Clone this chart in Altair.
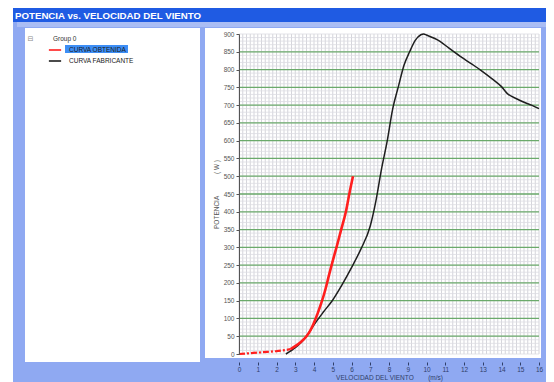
import altair as alt
import pandas as pd

# ---------------- data ----------------
series_names = ["CURVA OBTENIDA", "CURVA FABRICANTE"]
series_colors = ["#FF1E1E", "#1E1E1E"]

# measured curve, low-speed dashed part
red_low_x = [0.0, 0.5, 1.0, 1.5, 2.0, 2.5, 2.75]
red_low_y = [0, 2, 4, 6, 8, 11, 14]
# measured curve, main part
red_x = [2.75, 3.0, 3.3, 3.6, 3.8, 4.0, 4.2, 4.4, 4.6, 4.8, 5.0, 5.2, 5.45, 5.7, 5.9, 6.08]
red_y = [14, 22, 34, 50, 66, 88, 115, 145, 180, 222, 262, 300, 350, 400, 455, 500]

# manufacturer curve
black_x = [2.5, 3.0, 3.3, 3.6, 4.0, 4.5, 5.0, 5.5, 6.0, 6.5, 7.0, 7.3, 7.6, 7.9, 8.2,
           8.5, 8.8, 9.1, 9.4, 9.7, 9.85, 10.0, 10.7, 11.2, 11.8, 12.4, 12.9, 13.5,
           14.0, 14.3, 14.8, 15.3, 15.6, 16.0]
black_y = [0, 18, 32, 50, 82, 118, 152, 195, 243, 295, 360, 430, 520, 598, 690,
           752, 812, 850, 882, 898, 900, 897, 880, 860, 837, 816, 798, 774,
           752, 733, 718, 706, 700, 690]

x_ticks = list(range(0, 17))
y_ticks = list(range(0, 901, 50))
grid_x_minor = [round(i * 0.2, 1) for i in range(81)]
grid_y_minor = list(range(0, 901, 10))
grid_y_major = list(range(50, 851, 50))

chart_title = "POTENCIA vs. VELOCIDAD DEL VIENTO"
group_label = "Group 0"
tree_icon = "\u229f"
x_title = "VELOCIDAD DEL VIENTO" + "\u00a0" * 8 + "(m/s)"
y_title = "POTENCIA" + "\u00a0" * 12 + "(\u00a0W\u00a0)"

# ---------------- tables ----------------
df_black = pd.DataFrame({"x": black_x, "y": black_y, "curva": series_names[1]})
df_red = pd.DataFrame({"x": red_x, "y": red_y, "curva": series_names[0]})
df_red_low = pd.DataFrame({"x": red_low_x, "y": red_low_y, "curva": series_names[0]})
df_gx = pd.DataFrame({"x": grid_x_minor})
df_gy = pd.DataFrame({"y": grid_y_minor})
df_gy_major = pd.DataFrame({"y": grid_y_major})
one = pd.DataFrame({"k": [0]})

FONT = "Liberation Sans"

xs = alt.Scale(domain=[0, 16], nice=False, zero=False)
ys = alt.Scale(domain=[0, 900], nice=False, zero=False)

x_axis = alt.Axis(values=x_ticks, title=x_title, grid=False, domain=False, offset=8,
                  tickSize=3, tickColor="#2f3f6a", labelColor="#2f3f6a",
                  labelFont=FONT, labelFontSize=6.5, labelPadding=1, labelFlush=False,
                  labelOverlap=False, titleFont=FONT, titleFontSize=6.5,
                  titleFontWeight="normal", titleColor="#2f3f6a", titlePadding=2, zindex=1)
y_axis = alt.Axis(values=y_ticks, title=y_title, grid=False, tickSize=3,
                  tickColor="#555555", domainColor="#555555", labelColor="#555555",
                  labelFont=FONT, labelFontSize=6.5, labelPadding=2, labelFlush=False,
                  labelOverlap=False, titleFont=FONT, titleFontSize=6.5,
                  titleFontWeight="normal", titleColor="#555555", titlePadding=4, zindex=1)

X = alt.X("x:Q", scale=xs, axis=x_axis)
Y = alt.Y("y:Q", scale=ys, axis=y_axis)

legend = alt.Legend(title=None, orient="none", legendX=-191, legendY=9,
                    symbolType="stroke", symbolSize=150, symbolStrokeWidth=1.6,
                    labelFont=FONT, labelFontSize=6.5, labelColor="#1a1a1a",
                    labelOffset=7, rowPadding=0, padding=0, zindex=1)
C = alt.Color("curva:N", scale=alt.Scale(domain=series_names, range=series_colors),
              legend=legend)


def panel(x1, x2, y1, y2, color):
    return alt.Chart(one).mark_rect(color=color).encode(
        x=alt.value(x1), x2=alt.value(x2), y=alt.value(y1), y2=alt.value(y2))


# decorative window parts (view coordinates; plot area is 0..300 x 0..320)
white_edge = panel(-231, -226, -26, 360, "#FFFFFF")
title_bar = panel(-226, 310, -26, -12, "#1F5BE3")
title_shade = panel(-222, 310, -12, -7, "#AABDF4")
left_panel = panel(-214, -39, -6, 328, "#FFFFFF")
right_panel = panel(-34, 302, -6, 324, "#FFFFFF")
highlight = panel(-174, -111, 11, 19, "#3D8EF5")

gx = alt.Chart(df_gx).mark_rule(color="#CACAD2", strokeWidth=0.8).encode(x=X)
gy = alt.Chart(df_gy).mark_rule(color="#DCDCE2", strokeWidth=0.8).encode(y=Y)
gy_major = alt.Chart(df_gy_major).mark_rule(color="#6BAA6B", strokeWidth=1.3).encode(y=Y)

black_line = alt.Chart(df_black).mark_line(strokeWidth=1.5, interpolate="monotone").encode(
    x=X, y=Y, color=C)
red_line = alt.Chart(df_red).mark_line(strokeWidth=2.6, interpolate="monotone").encode(
    x=X, y=Y, color=C)
red_low = alt.Chart(df_red_low).mark_line(strokeWidth=2.2, strokeDash=[6, 2, 2, 2]).encode(
    x=X, y=Y, color=alt.value(series_colors[0]))

title_txt = alt.Chart(one).mark_text(align="left", baseline="middle", font=FONT,
                                     fontWeight="bold", fontSize=9.7, color="#FFFFFF").encode(
    x=alt.value(-224), y=alt.value(-18.5), text=alt.value(chart_title))
group_txt = alt.Chart(one).mark_text(align="left", baseline="middle", font=FONT,
                                     fontSize=6.5, color="#333333").encode(
    x=alt.value(-186), y=alt.value(5), text=alt.value(group_label))
icon_txt = alt.Chart(one).mark_text(align="center", baseline="middle", font="DejaVu Sans",
                                    fontSize=7, color="#8a8a8a").encode(
    x=alt.value(-208.5), y=alt.value(5), text=alt.value(tree_icon))

chart = alt.layer(
    white_edge, title_bar, title_shade, left_panel, right_panel, highlight,
    gx, gy, gy_major, black_line, red_line, red_low,
    title_txt, group_txt, icon_txt,
).properties(
    width=300, height=320,
    autosize=alt.AutoSizeParams(type="none"),
    padding={"left": 231, "top": 26, "right": 7, "bottom": 36},
    background="#8FA9F2",
).configure_view(stroke="#8c8c8c", strokeWidth=1)

chart.save("out.html", embed_options={"renderer": "svg", "actions": False})
